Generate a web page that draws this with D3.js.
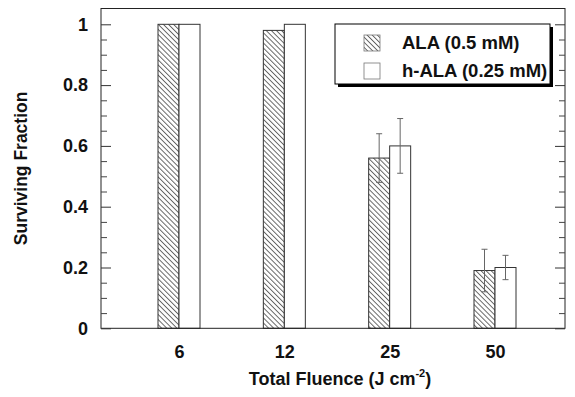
<!DOCTYPE html>
<html>
<head>
<meta charset="utf-8">
<script src="https://cdn.jsdelivr.net/npm/d3@7"></script>
<style>
  html, body { margin: 0; padding: 0; background: #fff; }
  text { font-family: "Liberation Sans", Arial, sans-serif; font-weight: bold; }
</style>
</head>
<body>
<div id="chart"></div>
<script>
// data
const fluences = ['6', '12', '25', '50'];
const seriesNames = ['ALA (0.5 mM)', 'h-ALA (0.25 mM)'];
const alaValues = [1.0, 0.98, 0.56, 0.19];
const alaErrors = [0, 0, 0.08, 0.07];
const hAlaValues = [1.0, 1.0, 0.60, 0.20];
const hAlaErrors = [0, 0, 0.09, 0.04];
const majorTicks = [0, 0.2, 0.4, 0.6, 0.8, 1];

const W = 575, H = 397;
const margin = {top: 8.5, right: 10, bottom: 68.7, left: 101};
const width = W - margin.left - margin.right;
const height = H - margin.top - margin.bottom;

const svg = d3.select('#chart').append('svg')
    .attr('width', W)
    .attr('height', H);

const defs = svg.append('defs');
defs.append('pattern')
    .attr('id', 'hatch')
    .attr('patternUnits', 'userSpaceOnUse')
    .attr('width', 3.6)
    .attr('height', 3.6)
    .attr('patternTransform', 'rotate(-45)')
    .append('line')
    .attr('x1', 0.5).attr('y1', 0)
    .attr('x2', 0.5).attr('y2', 3.6)
    .attr('stroke', '#444')
    .attr('stroke-width', 0.8);

const g = svg.append('g')
    .attr('transform', `translate(${margin.left},${margin.top})`);

const x = d3.scalePoint()
    .domain(fluences)
    .range([78, 394]);

const y = d3.scaleLinear()
    .domain([0, 1.052])
    .range([height, 0]);

const barW = 21;

// bars
const series = [
    {name: seriesNames[0], values: alaValues, errors: alaErrors, fill: 'url(#hatch)'},
    {name: seriesNames[1], values: hAlaValues, errors: hAlaErrors, fill: '#fff'}
];

series.forEach((s, si) => {
    const rows = fluences.map((f, i) => ({f, v: s.values[i], e: s.errors[i]}));
    const bx = d => x(d.f) - barW + si * barW;

    g.selectAll(`.bar${si}`)
        .data(rows)
        .enter()
        .append('rect')
        .attr('class', `bar${si}`)
        .attr('x', bx)
        .attr('y', d => y(d.v))
        .attr('width', barW)
        .attr('height', d => height - y(d.v))
        .attr('fill', s.fill)
        .attr('stroke', '#333')
        .attr('stroke-width', 1);

    const err = g.selectAll(`.err${si}`)
        .data(rows.filter(d => d.e > 0))
        .enter()
        .append('g')
        .attr('class', `err${si}`)
        .attr('stroke', '#666')
        .attr('stroke-width', 1);
    err.append('line')
        .attr('x1', d => bx(d) + barW / 2).attr('x2', d => bx(d) + barW / 2)
        .attr('y1', d => y(d.v + d.e)).attr('y2', d => y(d.v - d.e));
    [1, -1].forEach(sign => {
        err.append('line')
            .attr('x1', d => bx(d) + barW / 2 - 3).attr('x2', d => bx(d) + barW / 2 + 3)
            .attr('y1', d => y(d.v + sign * d.e)).attr('y2', d => y(d.v + sign * d.e));
    });
});

// frame
g.append('rect')
    .attr('width', width)
    .attr('height', height)
    .attr('fill', 'none')
    .attr('stroke', '#222')
    .attr('stroke-width', 1);

// ticks, inward on both sides
const minorTicks = d3.range(0, 1.001, 0.05).filter(t => !majorTicks.some(m => Math.abs(m - t) < 1e-6));

g.append('g')
    .call(d3.axisLeft(y).tickValues(minorTicks).tickSize(-6).tickFormat(''))
    .call(a => a.select('.domain').remove())
    .selectAll('line').attr('stroke', '#444');
g.append('g')
    .call(d3.axisLeft(y).tickValues(majorTicks).tickSize(-10).tickPadding(13)
        .tickFormat(d => d === 0 || d === 1 ? d3.format('d')(d) : d3.format('.1f')(d)))
    .call(a => a.select('.domain').remove())
    .call(a => a.selectAll('line').attr('stroke', '#333'))
    .selectAll('text')
    .attr('font-size', '18px')
    .attr('fill', '#111');

g.append('g')
    .attr('transform', `translate(${width},0)`)
    .call(d3.axisRight(y).tickValues(minorTicks).tickSize(-6).tickFormat(''))
    .call(a => a.select('.domain').remove())
    .selectAll('line').attr('stroke', '#444');
g.append('g')
    .attr('transform', `translate(${width},0)`)
    .call(d3.axisRight(y).tickValues(majorTicks).tickSize(-10).tickFormat(''))
    .call(a => a.select('.domain').remove())
    .selectAll('line').attr('stroke', '#333');

// category labels
g.append('g')
    .attr('transform', `translate(0,${height})`)
    .call(d3.axisBottom(x).tickSize(0).tickPadding(17))
    .call(a => a.select('.domain').remove())
    .selectAll('text')
    .attr('font-size', '18px')
    .attr('fill', '#111');

// axis titles
const xTitle = svg.append('text')
    .attr('x', 340)
    .attr('y', 385)
    .attr('text-anchor', 'middle')
    .attr('font-size', '18px')
    .attr('fill', '#111');
xTitle.append('tspan').text('Total Fluence (J cm');
xTitle.append('tspan').attr('font-size', '11px').attr('dy', -8).text('-2');
xTitle.append('tspan').attr('dy', 8).text(')');

svg.append('text')
    .attr('transform', `translate(27,${margin.top + height / 2}) rotate(-90)`)
    .attr('text-anchor', 'middle')
    .attr('font-size', '17.5px')
    .attr('fill', '#111')
    .text('Surviving Fraction');

// legend
const legend = svg.append('g').attr('transform', 'translate(335,24)');
legend.append('rect')
    .attr('x', 3).attr('y', 3)
    .attr('width', 215).attr('height', 60)
    .attr('fill', '#000');
legend.append('rect')
    .attr('width', 215).attr('height', 60)
    .attr('fill', '#fff')
    .attr('stroke', '#000')
    .attr('stroke-width', 1);

const legendItems = legend.selectAll('.item')
    .data(series)
    .enter()
    .append('g')
    .attr('class', 'item')
    .attr('transform', (d, i) => `translate(0,${i * 28})`);
legendItems.append('rect')
    .attr('x', 29).attr('y', 11)
    .attr('width', 16).attr('height', 16)
    .attr('fill', d => d.fill)
    .attr('stroke', '#777')
    .attr('stroke-width', 0.8);
legendItems.append('text')
    .attr('x', 67).attr('y', 25)
    .attr('font-size', '18.5px')
    .attr('fill', '#111')
    .text(d => d.name);
</script>
</body>
</html>
